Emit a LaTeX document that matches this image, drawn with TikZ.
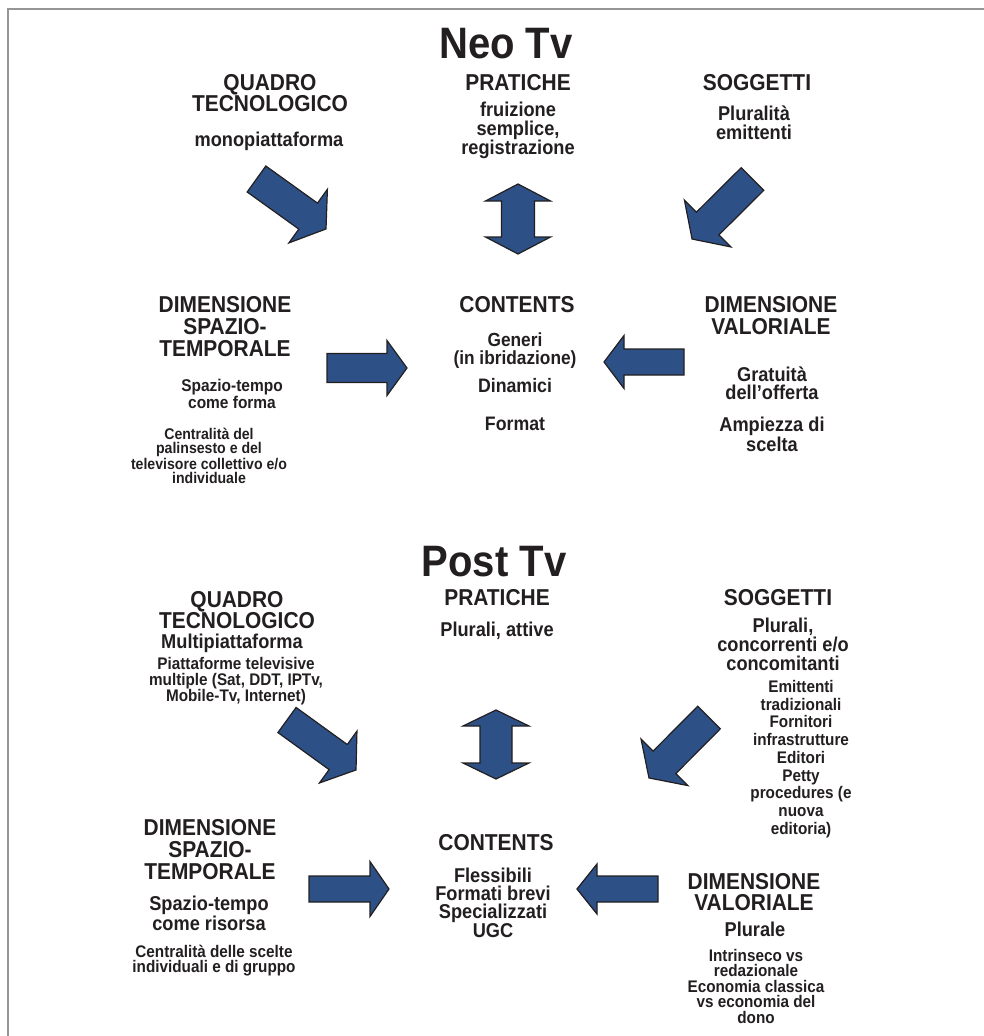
\documentclass[tikz,border=0pt]{standalone}
\usepackage{fontspec}
\setmainfont{Liberation Sans}[FakeStretch=0.91]
\definecolor{arrowblue}{RGB}{45,80,135}
\definecolor{ink}{RGB}{35,31,32}
\definecolor{framegray}{RGB}{150,150,150}
\tikzset{
  lbl/.style 2 args={font=\fontsize{#1}{#2}\selectfont\bfseries, align=center, text=ink, inner sep=0pt},
  hdr/.style={lbl={23}{21}},
  ttl/.style={lbl={44}{44}},
  blockarrow/.style={draw=ink, fill=arrowblue, line width=1.2pt, line join=miter},
}
% tail, angle, length, shaft half width, head half width, head length
\newcommand{\bluearrow}[6]{%
  \begin{scope}[shift={(#1)},rotate=#2]
    \draw[blockarrow] (0,#4) -- ({#3-#6},#4) -- ({#3-#6},#5) -- (#3,0)
      -- ({#3-#6},-#5) -- ({#3-#6},-#4) -- (0,-#4) -- cycle;
  \end{scope}}
% centre, angle, half length, shaft half width, head half width, head length
\newcommand{\bluedblarrow}[6]{%
  \begin{scope}[shift={(#1)},rotate=#2]
    \draw[blockarrow] (-#3,0) -- ({-#3+#6},#5) -- ({-#3+#6},#4) -- ({#3-#6},#4)
      -- ({#3-#6},#5) -- (#3,0) -- ({#3-#6},-#5) -- ({#3-#6},-#4)
      -- ({-#3+#6},-#4) -- ({-#3+#6},-#5) -- cycle;
  \end{scope}}

\begin{document}
\begin{tikzpicture}[x=1pt,y=-1pt]
    \useasboundingbox (0,0) rectangle (984,1036);
    \draw[framegray, line width=1.5pt] (8,1036) -- (8,9) -- (984,9);

    %% Neo Tv
    \node[ttl] (neo) at (506,44) {Neo Tv};
    \node[hdr] (quadroA) at (270,93) {QUADRO\\TECNOLOGICO};
    \node[lbl={20}{18}] (monoA) at (269,141) {monopiattaforma};
    \node[hdr] (praticheA) at (518,83) {PRATICHE};
    \node[lbl={20}{18.5}] (fruizA) at (518,130.5) {fruizione\\semplice,\\registrazione};
    \node[hdr] (soggA) at (757,83) {SOGGETTI};
    \node[lbl={20}{19}] (plurA) at (754,122.5) {Pluralità\\emittenti};
    \node[lbl={23}{22}] (spazA) at (225,327) {DIMENSIONE\\SPAZIO-\\TEMPORALE};
    \node[lbl={17}{16.5}] (formaA) at (232,394) {Spazio-tempo\\come forma};
    \node[lbl={15.5}{14}] (centrA) at (209,456) {Centralità del\\palinsesto e del\\televisore collettivo e/o\\individuale};
    \node[hdr] (contA) at (517,305) {CONTENTS};
    \node[lbl={19}{18}] (generiA) at (515,350.5) {Generi\\(in ibridazione)};
    \node[lbl={19.5}{17}] (dinA) at (515,386) {Dinamici};
    \node[lbl={19.5}{17}] (formatA) at (515,424) {Format};
    \node[lbl={23}{22}] (valA) at (771,316) {DIMENSIONE\\VALORIALE};
    \node[lbl={20}{18}] (gratA) at (772,383) {Gratuità\\dell’offerta};
    \node[lbl={20}{17.5}] (ampA) at (772,434.5) {Ampiezza di\\scelta};

    \bluearrow{256.5,179}{-35.7}{85.6}{16}{33}{22}
    \bluearrow{752.5,179}{-135.2}{85.2}{16}{33}{22}
    \bluedblarrow{518,219}{90}{35}{16.5}{32.5}{17}
    \bluearrow{327,368}{0}{80}{14.5}{27.5}{20}
    \bluearrow{684,362}{180}{80}{13}{26.5}{20}

    %% Post Tv
    \node[ttl] (post) at (494,562) {Post Tv};
    \node[hdr] (quadroB) at (237,610) {QUADRO\\TECNOLOGICO};
    \node[lbl={20}{18}] (multiB) at (232,643) {Multipiattaforma};
    \node[lbl={16.8}{15.5}] (piattB) at (236,681.5) {Piattaforme televisive\\multiple (Sat, DDT, IPTv,\\Mobile-Tv, Internet)};
    \node[hdr] (praticheB) at (497,598) {PRATICHE};
    \node[lbl={20}{18}] (plurB) at (497,631) {Plurali, attive};
    \node[hdr] (soggB) at (778,598) {SOGGETTI};
    \node[lbl={20}{19}] (concB) at (783,644) {Plurali,\\concorrenti e/o\\concomitanti};
    \node[lbl={16.8}{17.75}] (emittB) at (801,759) {Emittenti\\tradizionali\\Fornitori\\infrastrutture\\Editori\\Petty\\procedures (e\\nuova\\editoria)};
    \node[lbl={23}{22}] (spazB) at (210,850) {DIMENSIONE\\SPAZIO-\\TEMPORALE};
    \node[lbl={20}{17}] (risB) at (209,913.5) {Spazio-tempo\\come risorsa};
    \node[lbl={16.8}{15}] (sceltB) at (214,960.5) {Centralità delle scelte\\individuali e di gruppo};
    \node[hdr] (contB) at (496,843) {CONTENTS};
    \node[lbl={20}{18.3}] (flessB) at (493,902.5) {Flessibili\\Formati brevi\\Specializzati\\UGC};
    \node[lbl={23}{21.5}] (valB) at (754,892) {DIMENSIONE\\VALORIALE};
    \node[lbl={20}{18}] (pluraleB) at (755,929) {Plurale};
    \node[lbl={16.8}{15.5}] (intrB) at (756,986) {Intrinseco vs\\redazionale\\Economia classica\\vs economia del\\dono};

    \bluearrow{287,720}{-35.9}{85.2}{15.5}{32}{22}
    \bluearrow{709,717.5}{-134.8}{85.2}{16}{33}{22}
    \bluedblarrow{496,744.5}{90}{34.5}{16}{33}{16}
    \bluearrow{309,889}{0}{80}{13}{27.5}{19}
    \bluearrow{658,889}{180}{81}{13}{25}{20}
\end{tikzpicture}
\end{document}
